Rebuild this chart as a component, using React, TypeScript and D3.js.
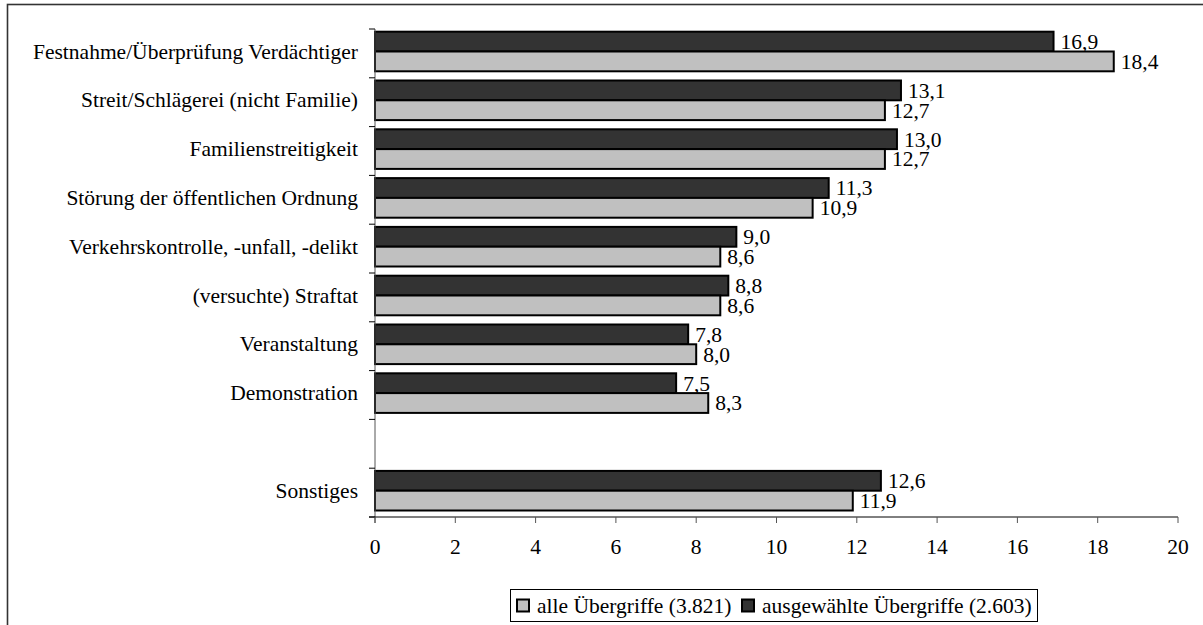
import React from "react";
import * as d3 from "d3";

const categories = [
  "Festnahme/Überprüfung Verdächtiger",
  "Streit/Schlägerei (nicht Familie)",
  "Familienstreitigkeit",
  "Störung der öffentlichen Ordnung",
  "Verkehrskontrolle, -unfall, -delikt",
  "(versuchte) Straftat",
  "Veranstaltung",
  "Demonstration",
  "",
  "Sonstiges",
];
const ausgewaehlte: (number | null)[] = [16.9, 13.1, 13.0, 11.3, 9.0, 8.8, 7.8, 7.5, null, 12.6];
const alle: (number | null)[] = [18.4, 12.7, 12.7, 10.9, 8.6, 8.6, 8.0, 8.3, null, 11.9];
const xTicks = [0, 2, 4, 6, 8, 10, 12, 14, 16, 18, 20];
const legendNames = ["alle Übergriffe (3.821)", "ausgewählte Übergriffe (2.603)"];

const W = 1203;
const H = 625;
const FONT = "Liberation Serif";
const FS = "21.5px";
const DARK = "#333333";
const LIGHT = "#c0c0c0";

export default function App() {
  const left = 375;
  const right = 1178;
  const top = 29;
  const bottom = 517;
  const x = d3.scaleLinear().domain([0, 20]).range([left, right]);
  const slotKeys = categories.map((_, i) => String(i));
  const y = d3.scaleBand().domain(slotKeys).range([top, bottom]).paddingInner(0).paddingOuter(0);
  const groupOffset = 2.7;
  const groupH = 39.6;
  const sub = d3.scaleBand().domain(["dark", "light"]).range([0, groupH]).padding(0);
  const fmt = (v: number) => d3.format(".1f")(v).replace(".", ",");

  const yTickPositions = d3.range(categories.length + 1).map((i) => top + i * y.step());

  return (
    <svg
      width={W}
      height={H}
      style={{ position: "absolute", left: 0, top: 0, display: "block", background: "#fff" }}
    >
      <rect x={7.5} y={4.5} width={1400} height={800} fill="#fff" stroke="#333" strokeWidth={1.6} />

      {categories.map((c, i) => {
        const y0 = (y(String(i)) as number) + groupOffset;
        const items = [
          { key: "dark", v: ausgewaehlte[i], fill: DARK },
          { key: "light", v: alle[i], fill: LIGHT },
        ];
        return (
          <g key={i}>
            {items.map((it) =>
              it.v == null ? null : (
                <g key={it.key}>
                  <rect
                    x={x(0)}
                    y={y0 + (sub(it.key) as number)}
                    width={x(it.v) - x(0)}
                    height={sub.bandwidth()}
                    fill={it.fill}
                    stroke="#000"
                    strokeWidth={2}
                  />
                  <text
                    x={x(it.v) + 7}
                    y={y0 + (sub(it.key) as number) + sub.bandwidth() / 2}
                    dy="0.34em"
                    fontFamily={FONT}
                    fontSize={FS}
                    fill="#000"
                  >
                    {fmt(it.v)}
                  </text>
                </g>
              )
            )}
            {c && (
              <text
                x={358}
                y={y0 + groupH / 2}
                dy="0.33em"
                textAnchor="end"
                fontFamily={FONT}
                fontSize={FS}
                fill="#000"
              >
                {c}
              </text>
            )}
          </g>
        );
      })}

      <line x1={left} x2={left} y1={top} y2={bottom + 6} stroke="#555" strokeWidth={1} />
      {yTickPositions.map((p, i) => (
        <line key={i} x1={left - 6} x2={left} y1={p} y2={p} stroke="#000" strokeWidth={1} />
      ))}

      <line x1={left - 6} x2={right} y1={bottom} y2={bottom} stroke="#000" strokeWidth={1} />
      {xTicks.map((t) => (
        <g key={t}>
          <line x1={x(t)} x2={x(t)} y1={bottom} y2={bottom + 6} stroke="#555" strokeWidth={1} />
          <text
            x={x(t)}
            y={547}
            dy="0.34em"
            textAnchor="middle"
            fontFamily={FONT}
            fontSize={FS}
            fill="#000"
          >
            {t}
          </text>
        </g>
      ))}

      <rect x={510.5} y={589.5} width={527} height={32} fill="#fff" stroke="#000" strokeWidth={1} />
      {legendNames.map((n, i) => {
        const lx = i === 0 ? 517 : 742;
        const fill = i === 0 ? LIGHT : DARK;
        return (
          <g key={n}>
            <rect x={lx} y={599.5} width={12} height={12} fill={fill} stroke="#000" strokeWidth={2} />
            <text x={lx + 20} y={605.5} dy="0.34em" fontFamily={FONT} fontSize={FS} fill="#000">
              {n}
            </text>
          </g>
        );
      })}
    </svg>
  );
}
